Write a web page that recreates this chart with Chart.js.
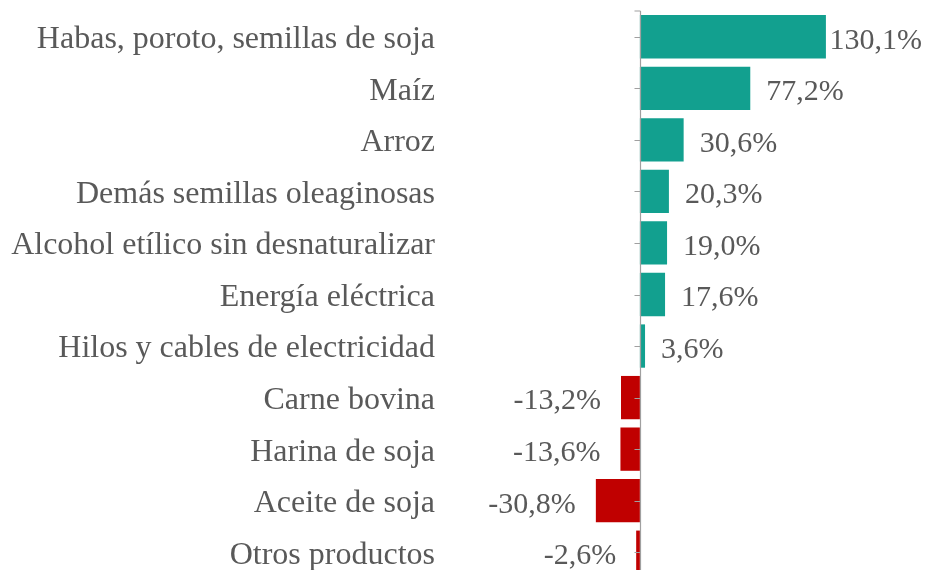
<!DOCTYPE html>
<html>
<head>
<meta charset="utf-8">
<script src="https://cdn.jsdelivr.net/npm/chart.js@4/dist/chart.umd.min.js"></script>
<style>
  html, body { margin: 0; padding: 0; background: #fff; overflow: hidden; }
  #chart { display: block; }
</style>
</head>
<body>
<canvas id="chart" width="928" height="590"></canvas>
<script>
// Datos del gráfico
const categories = [
    'Habas, poroto, semillas de soja',
    'Maíz',
    'Arroz',
    'Demás semillas oleaginosas',
    'Alcohol etílico sin desnaturalizar',
    'Energía eléctrica',
    'Hilos y cables de electricidad',
    'Carne bovina',
    'Harina de soja',
    'Aceite de soja',
    'Otros productos'
];
const variation = [130.1, 77.2, 30.6, 20.3, 19.0, 17.6, 3.6, -13.2, -13.6, -30.8, -2.6];

const POS_COLOR = '#12a08f';
const NEG_COLOR = '#c00000';
const TEXT_COLOR = '#595959';
const FONT = '"Liberation Serif", "Times New Roman", serif';

function formatPct(v) {
    return v.toFixed(1).replace('.', ',') + '%';
}

// Eje vertical en el cero con marcas en cada categoría
const zeroAxisPlugin = {
    id: 'zeroAxis',
    afterDatasetsDraw(chart) {
        const { ctx, scales, chartArea } = chart;
        const x0 = Math.round(scales.x.getPixelForValue(0)) + 0.5;
        ctx.save();
        ctx.strokeStyle = '#a0a0a0';
        ctx.lineWidth = 1.2;
        ctx.beginPath();
        ctx.moveTo(x0, chartArea.top);
        ctx.lineTo(x0, chartArea.bottom);
        ctx.moveTo(x0 - 6, chartArea.top);
        ctx.lineTo(x0, chartArea.top);
        categories.forEach((c, i) => {
            const y = Math.round(scales.y.getPixelForValue(i)) + 0.5;
            ctx.moveTo(x0 - 6, y);
            ctx.lineTo(x0, y);
        });
        ctx.stroke();
        ctx.restore();
    }
};

// Etiquetas de valores
const valueLabelsPlugin = {
    id: 'valueLabels',
    afterDatasetsDraw(chart) {
        const { ctx } = chart;
        const meta = chart.getDatasetMeta(0);
        ctx.save();
        ctx.font = '30px ' + FONT;
        ctx.fillStyle = TEXT_COLOR;
        ctx.textBaseline = 'middle';
        meta.data.forEach((bar, i) => {
            const v = variation[i];
            const text = formatPct(v);
            if (v >= 0) {
                const w = ctx.measureText(text).width;
                let x = bar.x + 16;
                if (x + w > chart.width - 6) x = Math.max(bar.x + 3, chart.width - 6 - w);
                ctx.textAlign = 'left';
                ctx.fillText(text, x, bar.y + 4);
            } else {
                ctx.textAlign = 'right';
                ctx.fillText(text, bar.x - 20, bar.y + 4);
            }
        });
        ctx.restore();
    }
};

new Chart(document.getElementById('chart'), {
    type: 'bar',
    data: {
        labels: categories,
        datasets: [{
            data: variation,
            backgroundColor: variation.map(v => v >= 0 ? POS_COLOR : NEG_COLOR),
            borderWidth: 0,
            barPercentage: 0.84,
            categoryPercentage: 1.0
        }]
    },
    options: {
        indexAxis: 'y',
        responsive: false,
        animation: false,
        layout: { padding: { top: 11, bottom: 12, left: 0, right: 0 } },
        plugins: {
            legend: { display: false },
            tooltip: { enabled: false }
        },
        scales: {
            x: {
                display: false,
                min: -143.3,
                max: 201.5
            },
            y: {
                grid: { display: false, drawTicks: false },
                border: { display: false },
                ticks: {
                    color: TEXT_COLOR,
                    font: { family: FONT, size: 32, lineHeight: 0.6 },
                    padding: 0,
                    labelOffset: 3
                },
                afterFit(scale) { scale.width = 435; }
            }
        }
    },
    plugins: [zeroAxisPlugin, valueLabelsPlugin]
});
</script>
</body>
</html>
